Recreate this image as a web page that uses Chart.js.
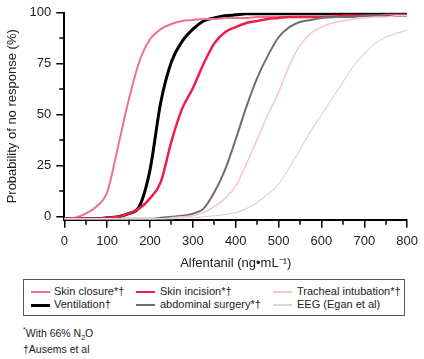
<!DOCTYPE html>
<html>
<head>
<meta charset="utf-8">
<script src="https://cdn.jsdelivr.net/npm/chart.js@4/dist/chart.umd.min.js"></script>
<style>
  html,body{margin:0;padding:0;background:#fff;}
  body{width:424px;height:359px;position:relative;overflow:hidden;font-family:"Liberation Sans",Arial,sans-serif;color:#222;}
  #wrap{position:absolute;left:0;top:0;width:424px;height:275px;}
  #legend{position:absolute;left:23px;top:279px;width:382px;height:37px;border:1px solid #555;box-sizing:border-box;font-size:11px;}
  .item{position:absolute;white-space:nowrap;line-height:13px;}
  .swatch{position:absolute;top:6px;width:19px;}
  .lab{position:absolute;top:0;}
  .note{position:absolute;left:23px;font-size:10.5px;white-space:nowrap;}
</style>
</head>
<body>
<div id="wrap"><canvas id="c" width="424" height="275"></canvas></div>
<div id="legend"></div>
<div class="note" style="top:326px;"><sup style="font-size:7px;">*</sup>With 66% N<sub style="font-size:7px;">2</sub>O</div>
<div class="note" style="top:343px;">†Ausems et al</div>
<script>
// Alfentanil concentration (ng/mL)
const xs = [0,25,50,75,100,125,150,175,200,225,250,275,300,325,350,375,400,425,450,475,500,525,550,575,600,625,650,675,700,725,750,775,800];

const skinClosure   = [-1,-0.5,1.5,5,12,34,57,76,87,92,94.5,96,96.5,97,97,97.5,97.5,97.5,98,98,98,98,98,98,98,98.5,98.5,98.5,98.5,98.5,99,99,99];
const ventilation   = [-1,-1,-1,-1,-0.5,0,1.5,5,23,56,76,86,92,96,97.5,98.5,99,99.5,99.5,99.5,99.5,99.5,99.5,99.5,99.5,99.5,99.5,99.5,99.5,99.5,99.5,99.5,99.5];
const skinIncision  = [-1,-1,-1,-1,-0.5,0,1.5,4,9,17,37,53,63,75,85,90.5,93,95,96,97,97.5,98,98,98,98,98,98.5,98.5,98.5,98.5,98.5,98.5,98.5];
const abdominal     = [-1,-1,-1,-1,-1,-1,-1,-1,-1,-0.5,0,0.5,1.5,4,12,23,38,54,68,79,88,93,95.5,96.5,97.5,98,98,98,98.5,98.5,98.5,98.5,98.5];
const tracheal      = [-1,-1,-1,-1,-1,-1,-1,-1,-1,-1,-0.5,0,0.5,2,5,9,15,26,38,50,61,74,84,90,93,95,96,97,97.5,98,98,98.5,98.5];
const eeg           = [-1,-1,-1,-1,-1,-1,-1,-1,-1,-1,-1,-0.5,-0.5,0,0.5,1,2,4,7,11,16,24,33,42,50,58,66,74,80,85,88,90,91.5];

const yTicks = [0,25,50,75,100];
const yMinor = [12.5,37.5,62.5,87.5];
const xTicks = [0,100,200,300,400,500,600,700,800];
const xMinor = [50,150,250,350,450,550,650,750];

const series = [
  {label:"Skin closure*†",        data:skinClosure,  color:"#f07090", width:2,   col:0, row:0},
  {label:"Ventilation†",          data:ventilation,  color:"#000000", width:3,   col:0, row:1},
  {label:"Skin incision*†",       data:skinIncision, color:"#ee1e48", width:2.5, col:1, row:0},
  {label:"abdominal surgery*†",   data:abdominal,    color:"#6e6e6e", width:2,   col:1, row:1},
  {label:"Tracheal intubation*†", data:tracheal,     color:"#f8c4d4", width:1.5, col:2, row:0},
  {label:"EEG (Egan et al)",      data:eeg,          color:"#d8d8d8", width:1.2, col:2, row:1}
];

const drawOrder = [5,4,3,2,0,1];
const datasets = drawOrder.map(i => {
  const s = series[i];
  return {
    label: s.label,
    data: xs.map((x,k)=>({x:x, y:s.data[k]})),
    borderColor: s.color,
    borderWidth: s.width,
    pointRadius: 0,
    fill: false,
    cubicInterpolationMode: 'monotone',
    tension: 0.4
  };
});

const font = {family:"'Liberation Sans', Arial, sans-serif", size:13};

const minorTicks = {
  id:'minorTicks',
  afterDraw(chart){
    const ctx = chart.ctx, xs_ = chart.scales.x, ys_ = chart.scales.y;
    ctx.save();
    ctx.strokeStyle = '#000';
    ctx.lineWidth = 1.5;
    ctx.beginPath();
    xMinor.forEach(v => {
      const px = Math.round(xs_.getPixelForValue(v));
      ctx.moveTo(px, xs_.top); ctx.lineTo(px, xs_.top + 5);
    });
    yMinor.forEach(v => {
      const py = Math.round(ys_.getPixelForValue(v));
      ctx.moveTo(ys_.right, py); ctx.lineTo(ys_.right - 5, py);
    });
    ctx.stroke();
    ctx.restore();
  }
};

new Chart(document.getElementById('c'), {
  type:'line',
  data:{datasets},
  plugins:[minorTicks],
  options:{
    responsive:false,
    animation:false,
    devicePixelRatio:1,
    layout:{padding:{left:5,right:16,top:1,bottom:4}},
    plugins:{legend:{display:false}, tooltip:{enabled:false}},
    scales:{
      x:{
        type:'linear', min:0, max:800,
        afterBuildTicks: sc => { sc.ticks = xTicks.map(v=>({value:v})); },
        ticks:{color:'#222', font, padding:6, maxRotation:0, autoSkip:false},
        grid:{drawOnChartArea:false, drawTicks:true, tickLength:8, color:'#000', lineWidth:1.5},
        border:{display:true, color:'#000', width:2},
        title:{display:true, text:'Alfentanil (ng•mL⁻¹)', color:'#222', font, padding:{top:0,bottom:0}}
      },
      y:{
        min:-1.5, max:100,
        afterBuildTicks: sc => { sc.ticks = yTicks.map(v=>({value:v})); },
        ticks:{color:'#222', font, padding:5, autoSkip:false},
        grid:{drawOnChartArea:false, drawTicks:true, tickLength:8, color:'#000', lineWidth:1.5},
        border:{display:true, color:'#000', width:2},
        title:{display:true, text:'Probability of no response (%)', color:'#222', font, padding:{top:0,bottom:4}}
      }
    }
  }
});

// HTML legend built from series
const colX = [[7,30],[112,136],[249,273]];
const rowY = [5,18];
const leg = document.getElementById('legend');
series.forEach(s => {
  const it = document.createElement('div');
  it.className = 'item';
  it.style.left = colX[s.col][0] + 'px';
  it.style.top = rowY[s.row] + 'px';
  const sw = document.createElement('div');
  sw.className = 'swatch';
  sw.style.left = '0px';
  sw.style.borderTop = Math.max(2, s.width) + 'px solid ' + s.color;
  const lb = document.createElement('div');
  lb.className = 'lab';
  lb.style.left = (colX[s.col][1] - colX[s.col][0]) + 'px';
  lb.textContent = s.label;
  it.appendChild(sw); it.appendChild(lb);
  leg.appendChild(it);
});
</script>
</body>
</html>
